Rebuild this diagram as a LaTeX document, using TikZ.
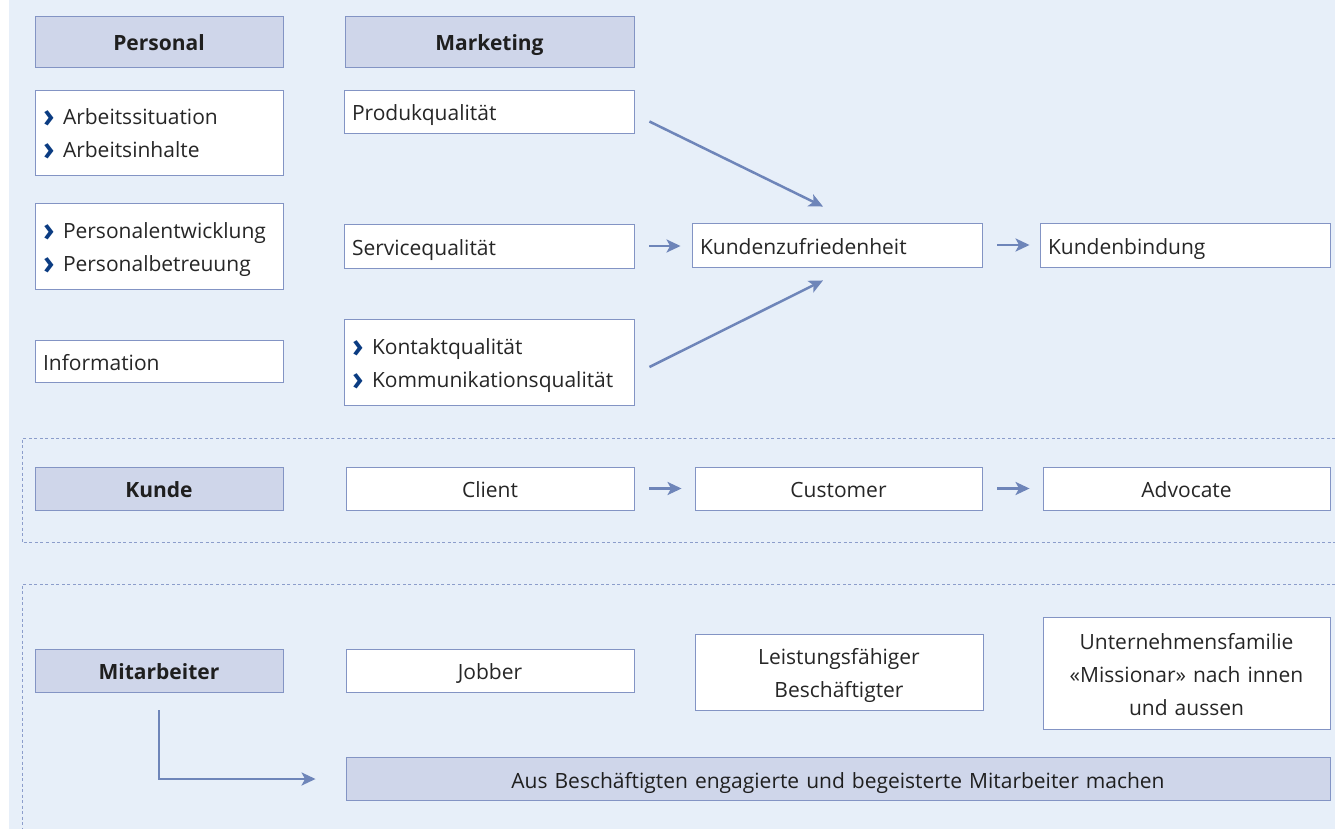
\documentclass[tikz,border=0pt]{standalone}
\usepackage{fontspec}
\setmainfont{Open Sans}
\usetikzlibrary{arrows.meta,calc}
\definecolor{bg}{HTML}{E7EFF9}
\definecolor{hdr}{HTML}{CFD6EA}
\definecolor{bd}{HTML}{8394C4}
\definecolor{arr}{HTML}{6E85B9}
\definecolor{dsh}{HTML}{8C9DCB}
\definecolor{bul}{HTML}{0B3C82}
\definecolor{txt}{HTML}{262626}
\newcommand{\st}{\rule[-6pt]{0pt}{30pt}}
\newcommand{\chev}{\makebox[20pt][l]{\textcolor{bul}{\raisebox{-2.8pt}{\scalebox{1.5}[1.6]{\bfseries ›}}}}}
\begin{document}
\begin{tikzpicture}[x=1pt,y=-1pt,
  font=\fontsize{21}{33}\selectfont, text=txt,
  base/.style={draw=bd, line width=0.9pt, inner xsep=8pt, inner ysep=0pt, anchor=center},
  wl/.style={base, fill=white, align=left},
  wc/.style={base, fill=white, align=center},
  hd/.style={base, fill=hdr, align=center, font=\fontsize{21}{33}\selectfont\bfseries, text=black!88},
  conn/.style={draw=arr, line width=2.5pt, -{Stealth[length=14pt,width=13pt,inset=3.5pt]}},
  dline/.style={draw=dsh, line width=0.9pt, dash pattern=on 3pt off 2.5pt}]
\useasboundingbox (0,0) rectangle (1335,829);
\fill[bg] (9,0) rectangle (1335,829);
% dashed section frames
\draw[dline] (1335,438) -- (22,438) -- (22,542) -- (1335,542);
\draw[dline] (1335,584) -- (22,584) -- (22,829);
% headers
\node[hd, text width=232, minimum height=51] (pers) at (159,41.5) {\st Personal};
\node[hd, text width=273, minimum height=51] (mark) at (489.5,41.5) {\st Marketing};
% personal column
\node[wl, text width=232, minimum height=85] (arb) at (159,132.5) {\st\chev Arbeitssituation\\\st\chev Arbeitsinhalte};
\node[wl, text width=232, minimum height=86] (pent) at (159,246) {\st\chev Personalentwicklung\\\st\chev Personalbetreuung};
\node[wl, text width=232, minimum height=42] (info) at (159,361) {\st Information};
% marketing column
\node[wl, text width=274, minimum height=43] (prod) at (489,111.5) {\st Produkqualität};
\node[wl, text width=274, minimum height=44] (serv) at (489,246) {\st Servicequalität};
\node[wl, text width=274, minimum height=86] (kont) at (489,362) {\st\chev Kontaktqualität\\\st\chev Kommunikationsqualität};
\node[wl, text width=274, minimum height=44] (kz) at (837,245) {\st Kundenzufriedenheit};
\node[wl, text width=274, minimum height=44] (kb) at (1185,245) {\st Kundenbindung};
\draw[conn] ($(prod.east)+(15,10)$) -- ($(kz.north)+(-14,-16)$);
\draw[conn] ($(kont.east)+(15,5)$) -- ($(kz.south)+(-14,13)$);
\draw[conn, shorten <=15pt, shorten >=11pt] (serv.east) -- (serv.east -| kz.west);
\draw[conn, shorten <=15pt, shorten >=10pt] (kz.east) -- (kb.west);
% Kunde row
\node[hd, text width=232, minimum height=43] (kunde) at (159,488.5) {\st Kunde};
\node[wc, text width=272, minimum height=43] (client) at (490,488.5) {\st Client};
\node[wc, text width=271, minimum height=43] (cust) at (838.5,488.5) {\st Customer};
\node[wc, text width=271, minimum height=43] (adv) at (1186.5,488.5) {\st Advocate};
\draw[conn, shorten <=15pt, shorten >=13pt] (client.east) -- (cust.west);
\draw[conn, shorten <=15pt, shorten >=13pt] (cust.east) -- (adv.west);
% Mitarbeiter row
\node[hd, text width=232, minimum height=43] (mit) at (159,670.5) {\st Mitarbeiter};
\node[wc, text width=272, minimum height=43] (job) at (490,670.5) {\st Jobber};
\node[wc, text width=272, minimum height=76] (leist) at (839,672) {\st Leistungsfähiger\\\st Beschäftigter};
\node[wc, text width=271, minimum height=112] (unt) at (1186.5,673) {\st Unternehmensfamilie\\\st «Missionar» nach innen\\\st und aussen};
\node[hd, text width=968, minimum height=43, font=\fontsize{21}{33}\selectfont] (bar) at (838,779) {\st Aus Beschäftigten engagierte und begeisterte Mitarbeiter machen};
\coordinate (mstart) at ($(mit.south)+(0,18)$);
\draw[conn, shorten >=30pt] (mstart) |- (bar.west);
\end{tikzpicture}
\end{document}
